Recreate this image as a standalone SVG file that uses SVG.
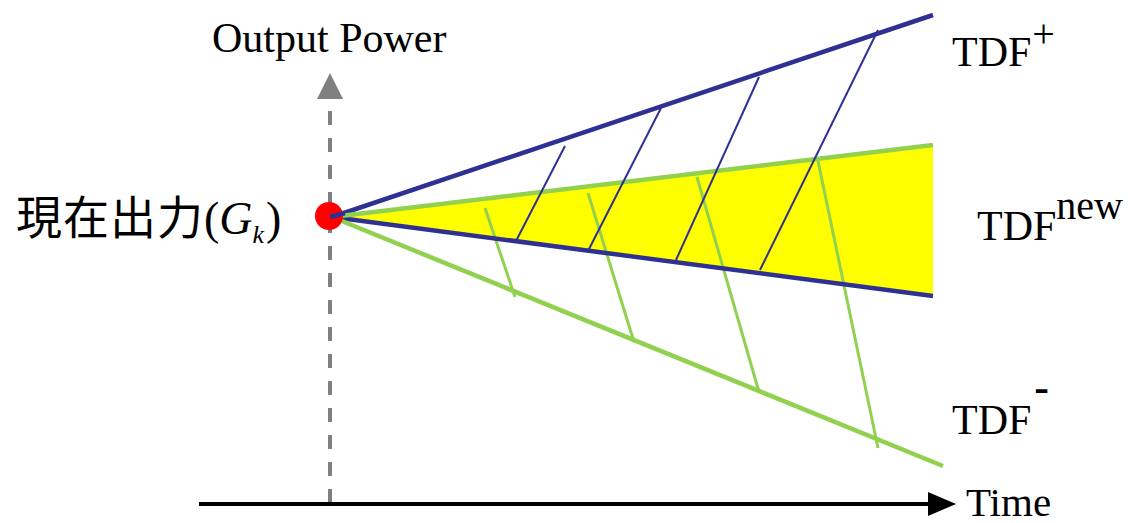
<svg xmlns="http://www.w3.org/2000/svg" width="1133" height="523" viewBox="0 0 1133 523">
<style>
.serif{font-family:"Liberation Serif","DejaVu Serif","Times New Roman",Times,serif;fill:#000}
.cjk{font-family:"Noto Sans CJK JP","Noto Sans CJK SC",sans-serif;fill:#000}
.blue{stroke:#2E3192;fill:none;stroke-linecap:butt}
.green{stroke:#92D050;fill:none;stroke-linecap:butt}
.thick{stroke-width:4.5}
.thin{stroke-width:2}
.mid{stroke-width:3}
</style>
<defs>
<marker id="grayArrow" markerWidth="26" markerHeight="26" viewBox="0 0 26 26" refX="0" refY="13" orient="auto" markerUnits="userSpaceOnUse">
<polygon points="0,0 26,13 0,26" fill="#808080"/>
</marker>
<marker id="blackArrow" markerWidth="28" markerHeight="24" viewBox="0 0 28 24" refX="0" refY="12" orient="auto" markerUnits="userSpaceOnUse">
<polygon points="0,0 28,12 0,24" fill="#000"/>
</marker>
</defs>
<rect width="1133" height="523" fill="#fff"/>
<g id="axes">
<line x1="330" y1="503" x2="330" y2="99" stroke="#808080" stroke-width="4" stroke-dasharray="14,13" marker-end="url(#grayArrow)"/>
<line x1="199" y1="504" x2="928" y2="504" stroke="#000" stroke-width="4" marker-end="url(#blackArrow)"/>
</g>
<g id="region">
<polygon points="336,217 933,146 933,296" fill="#FFFF00"/>
</g>
<g id="connectors">
<line class="green mid" x1="485" y1="208" x2="515" y2="297"/>
<line class="green mid" x1="588" y1="193" x2="634" y2="342"/>
<line class="green mid" x1="697" y1="177" x2="759" y2="392"/>
<line class="green mid" x1="818" y1="161" x2="878" y2="448"/>
<line class="blue thick" x1="332" y1="217" x2="933" y2="15"/>
<line class="blue thick" x1="332" y1="217" x2="933" y2="296"/>
<line class="green thick" x1="332" y1="217" x2="933" y2="145"/>
<line class="green thick" x1="332" y1="217" x2="943" y2="466"/>
<line class="blue thin" x1="565" y1="146" x2="516" y2="241"/>
<line class="blue thin" x1="661" y1="108" x2="588" y2="251"/>
<line class="blue thin" x1="759" y1="77" x2="676" y2="260"/>
<line class="blue thin" x1="878" y1="30" x2="760" y2="270"/>
</g>
<g id="origin">
<circle cx="329" cy="216" r="14" fill="#FF0000"/>
<line class="blue thick" x1="330" y1="217" x2="345" y2="213"/>
</g>
<g id="labels">
<text class="serif" x="212" y="52" font-size="42">Output Power</text>
<text class="serif" x="952" y="66" font-size="42">TDF<tspan font-size="40" dx="1" dy="-19">+</tspan></text>
<text class="serif" x="977" y="240" font-size="42">TDF<tspan font-size="40" dx="0" dy="-21">new</tspan></text>
<text class="serif" x="952" y="434" font-size="42">TDF<tspan font-size="44" dx="3" dy="-32" font-weight="bold">-</tspan></text>
<text class="serif" x="966" y="516" font-size="41">Time</text>
<text x="16" y="234"><tspan class="cjk" font-size="46" letter-spacing="1">現在出力</tspan><tspan class="serif" font-size="46" x="204">(</tspan><tspan class="serif" font-size="46" font-style="italic">G</tspan><tspan class="serif" font-size="26" font-style="italic" dy="9">k</tspan><tspan class="serif" font-size="46" dy="-9" dx="2">)</tspan></text>
</g>
</svg>
